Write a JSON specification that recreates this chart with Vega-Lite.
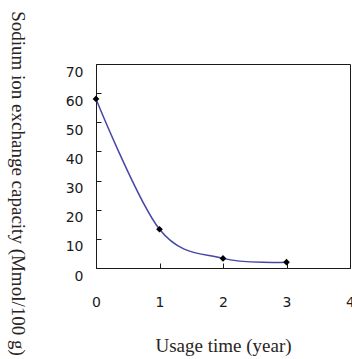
{
  "$schema": "https://vega.github.io/schema/vega-lite/v6.json",
  "width": 254,
  "height": 204,
  "autosize": {"type": "none"},
  "padding": {"left": 96, "top": 64, "right": 2, "bottom": 91},
  "background": "white",
  "config": {
    "view": {"stroke": "#1a1a1a", "strokeWidth": 1},
    "axis": {
      "domainColor": "#1a1a1a",
      "tickColor": "#1a1a1a",
      "grid": false,
      "labelFont": "DejaVu Sans",
      "labelFontSize": 14,
      "labelColor": "#1a1a1a",
      "titleFont": "Liberation Serif",
      "titleFontSize": 19,
      "titleFontWeight": "normal",
      "titleColor": "#2a2424"
    }
  },
  "data": {
    "values": [
      {"year": 0, "capacity": 58},
      {"year": 1, "capacity": 13.3},
      {"year": 2, "capacity": 3.3},
      {"year": 3, "capacity": 2}
    ]
  },
  "encoding": {
    "x": {
      "field": "year",
      "type": "quantitative",
      "scale": {"domain": [0, 4], "nice": false},
      "axis": {
        "title": "Usage time (year)",
        "values": [0, 1, 2, 3, 4],
        "format": "d",
        "tickSize": -5,
        "labelPadding": 32,
        "labelFlush": false,
        "labelOverlap": false,
        "titleX": 127,
        "titleY": 77,
        "titleBaseline": "middle",
        "titleAlign": "center"
      }
    },
    "y": {
      "field": "capacity",
      "type": "quantitative",
      "scale": {"domain": [0, 70], "nice": false},
      "axis": {
        "title": "Sodium ion exchange capacity (Mmol/100 g)",
        "values": [0, 10, 20, 30, 40, 50, 60, 70],
        "tickSize": -5,
        "labelPadding": 18,
        "labelOffset": 8,
        "labelFlush": false,
        "labelOverlap": false,
        "titleAngle": 90,
        "titleX": -79,
        "titleY": 119,
        "titleBaseline": "middle",
        "titleAlign": "center"
      }
    }
  },
  "layer": [
    {
      "mark": {"type": "line", "interpolate": "cardinal", "tension": 0, "color": "#4646a8", "strokeWidth": 1.5}
    },
    {
      "mark": {"type": "point", "shape": "diamond", "filled": true, "color": "black", "size": 45, "opacity": 1}
    }
  ]
}
